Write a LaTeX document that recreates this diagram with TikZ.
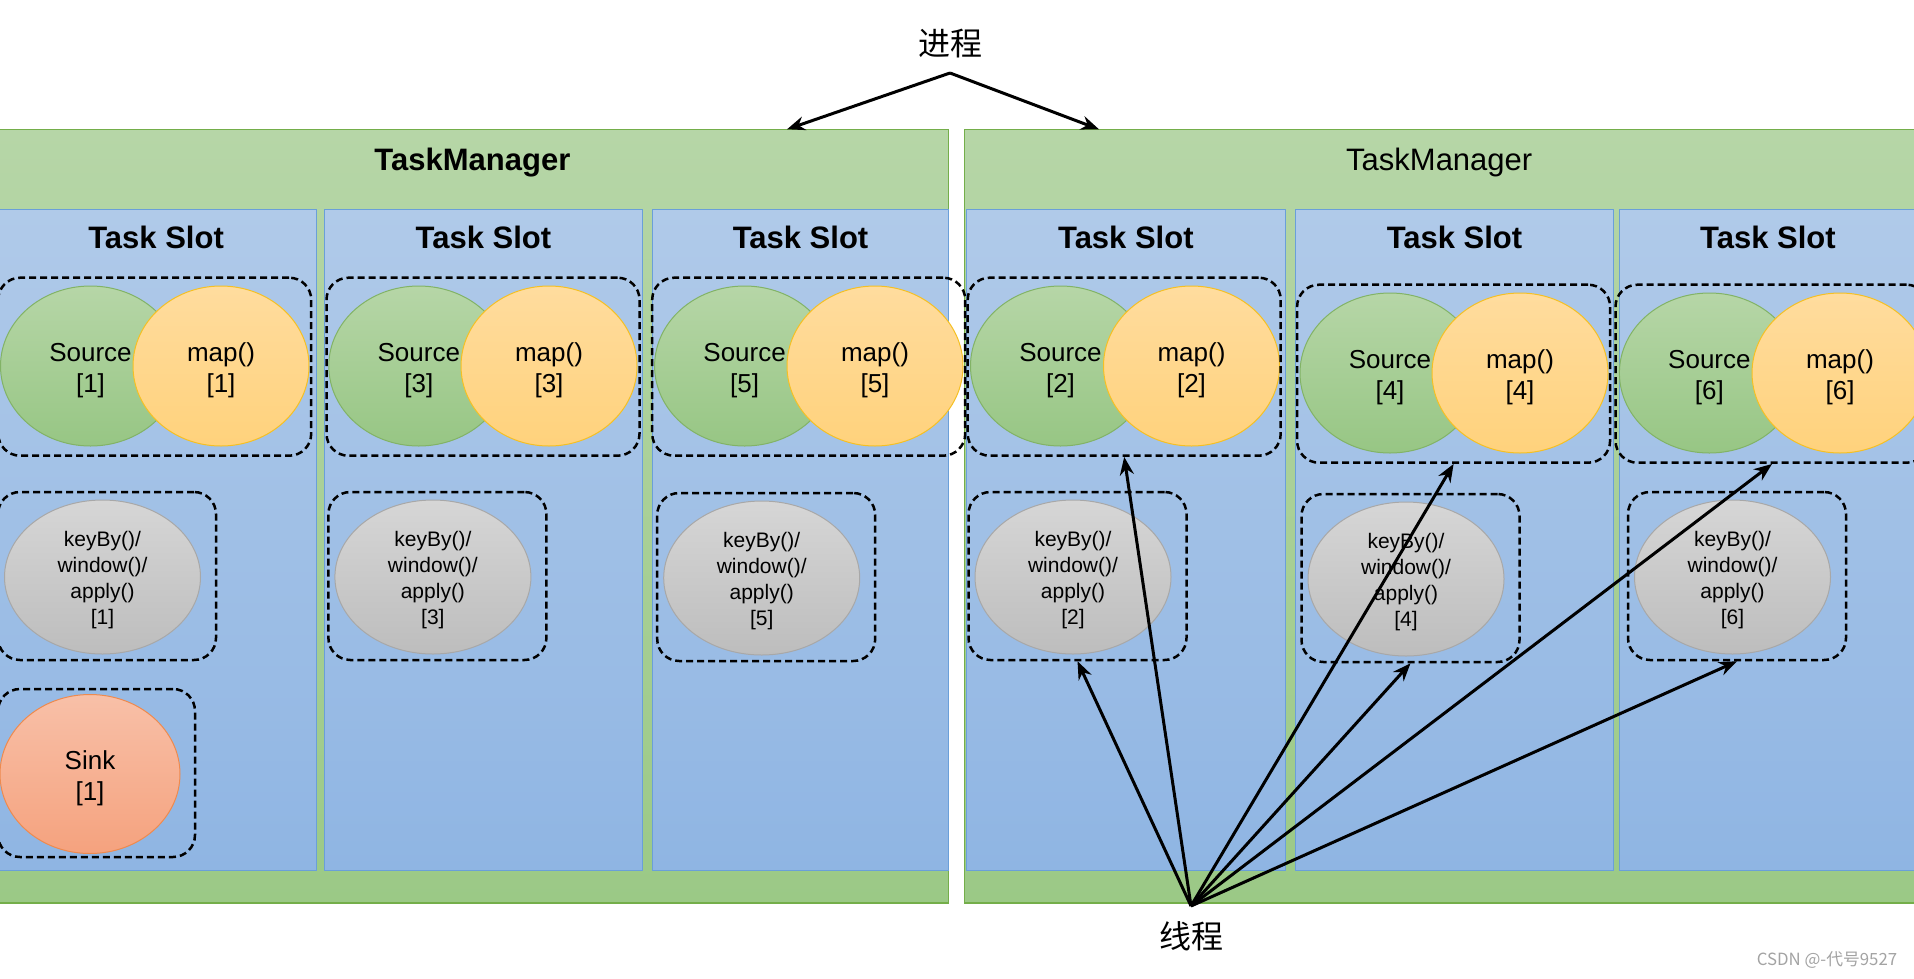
\documentclass[tikz,border=0pt]{standalone}
\usepackage{fontspec}
\setmainfont{Liberation Sans}
\newfontfamily\cjk{Noto Sans CJK SC}
\usetikzlibrary{arrows.meta, shapes.geometric}

\definecolor{tmtop}{HTML}{B6D6A7}
\definecolor{tmbot}{HTML}{9BC986}
\definecolor{tmline}{HTML}{74AE4A}
\definecolor{slottop}{HTML}{B0CAE9}
\definecolor{slotbot}{HTML}{8FB5E3}
\definecolor{slotline}{HTML}{6A9FD9}
\definecolor{srctop}{HTML}{B6D6A7}
\definecolor{srcbot}{HTML}{97C684}
\definecolor{srcline}{HTML}{82B366}
\definecolor{maptop}{HTML}{FFDC9E}
\definecolor{mapbot}{HTML}{FFD27C}
\definecolor{mapline}{HTML}{F5C024}
\definecolor{kbtop}{HTML}{D6D6D6}
\definecolor{kbbot}{HTML}{BDBDBD}
\definecolor{kbline}{HTML}{A8A8A8}
\definecolor{sinktop}{HTML}{F8C0A8}
\definecolor{sinkbot}{HTML}{F5A27E}
\definecolor{sinkline}{HTML}{EE8A4E}
\definecolor{wmgray}{HTML}{A3A3A3}

\newcommand{\srcstrut}{\rule{0pt}{27pt}}
\newcommand{\kbstrut}{\rule{0pt}{21pt}}

\tikzset{
	tmbox/.style={draw=tmline, line width=1.2pt, top color=tmtop, bottom color=tmbot},
	slotbox/.style={draw=slotline, line width=1pt, top color=slottop, bottom color=slotbot},
	titletext/.style={anchor=base, font=\fontsize{31}{37}\selectfont},
	grpbox/.style={draw=black, line width=2.5pt, dash pattern=on 7pt off 4pt, rounded corners=22pt,
		minimum width=313pt, minimum height=178pt, inner sep=0pt},
	kbgrp/.style={grpbox, minimum width=218pt, minimum height=168pt},
	srcnode/.style={ellipse, draw=srcline, line width=1pt, top color=srctop, bottom color=srcbot,
		minimum width=180pt, minimum height=160pt, inner sep=0pt, align=center,
		font=\fontsize{26}{31.5}\selectfont},
	mapnode/.style={srcnode, draw=mapline, top color=maptop, bottom color=mapbot, minimum width=176pt},
	kbnode/.style={srcnode, draw=kbline, top color=kbtop, bottom color=kbbot,
		minimum width=196pt, minimum height=154pt, font=\fontsize{21}{25.8}\selectfont},
	sinknode/.style={srcnode, draw=sinkline, top color=sinktop, bottom color=sinkbot, minimum height=159pt},
	arr/.style={-{Stealth[length=18pt,width=14pt]}, line width=3pt},
	zh/.style={font=\cjk\fontsize{32}{38}\selectfont}
}

\begin{document}
\begin{tikzpicture}[x=1pt, y=-1pt]
	\useasboundingbox (0,0) rectangle (1914,978);
	\clip (0,0) rectangle (1914,978);

	%task managers
	\draw[tmbox] (-4,129.3) rectangle (948.7,903);
	\draw[tmbox] (964.3,129.3) rectangle (1916,903);
		\node[titletext, font=\bfseries\fontsize{31}{37}\selectfont] (tmL) at (472.4,170) {TaskManager};
		\node[titletext] (tmR) at (1439.2,170) {TaskManager};

	%task slots
	\foreach \xa/\xb [count=\i] in {-4/316.2, 324.7/642.1, 652.4/948.7, 966.3/1285.4, 1295.2/1613.8, 1619.9/1916} {
		\draw[slotbox] (\xa,209.3) rectangle (\xb,870.3);
		\node[titletext, font=\bfseries\fontsize{31}{37}\selectfont] (slot\i) at ({(\xa+\xb)/2},248.3) {Task Slot};
	}

	%source + map chains
	\foreach \n/\xs/\xm/\xg/\y in {1/90.5/221/154.7/366, 3/418.8/549/483/366, 5/744.6/875/808.7/366,
		2/1060.5/1191.5/1124.2/366, 4/1390/1520/1453.6/373, 6/1709.4/1840/1772/373} {
		\node[srcnode] (src\n) at (\xs,\y) {\srcstrut Source\\{[\n]}};
		\node[mapnode] (map\n) at (\xm,\y) {\srcstrut map()\\{[\n]}};
		\node[grpbox] (grp\n) at (\xg,\y+0.7) {};
	}

	%keyBy/window/apply
	\foreach \n/\xe/\y in {1/102.5/577, 3/432.9/577, 5/761.7/578, 2/1073/577, 4/1406/579, 6/1732.5/577} {
		\node[kbnode] (kb\n) at (\xe,\y) {\kbstrut keyBy()/\\window()/\\apply()\\{[\n]}};
		\node[kbgrp] (kbgrp\n) at (\xe+4.5,\y-1) {};
	}

	%sink
	\node[sinknode] (sink1) at (90,774) {\srcstrut Sink\\{[1]}};
	\node[kbgrp, minimum width=197pt] (sinkgrp) at (96.5,773) {};

	%process
	\node[zh] (proc) at (950,44) {进程};
	\coordinate (procpt) at (950,73);
	\coordinate (tipL) at (787,129.3);
	\coordinate (tipR) at (1099,129.3);
	\draw[arr] (procpt) -- (tipL);
	\draw[arr] (procpt) -- (tipR);

	%threads
	\node[zh] (thrlabel) at (1191,936) {线程};
	\coordinate (thr) at (1191,906);
	\foreach \t in {kbgrp2, grp2, grp4, kbgrp4, grp6, kbgrp6}
		\draw[arr] (thr) -- (\t.south);

	\node[text=wmgray, font=\cjk\fontsize{16.8}{20}\selectfont] (wm) at (1827,960) {CSDN @-代号9527};
\end{tikzpicture}
\end{document}
